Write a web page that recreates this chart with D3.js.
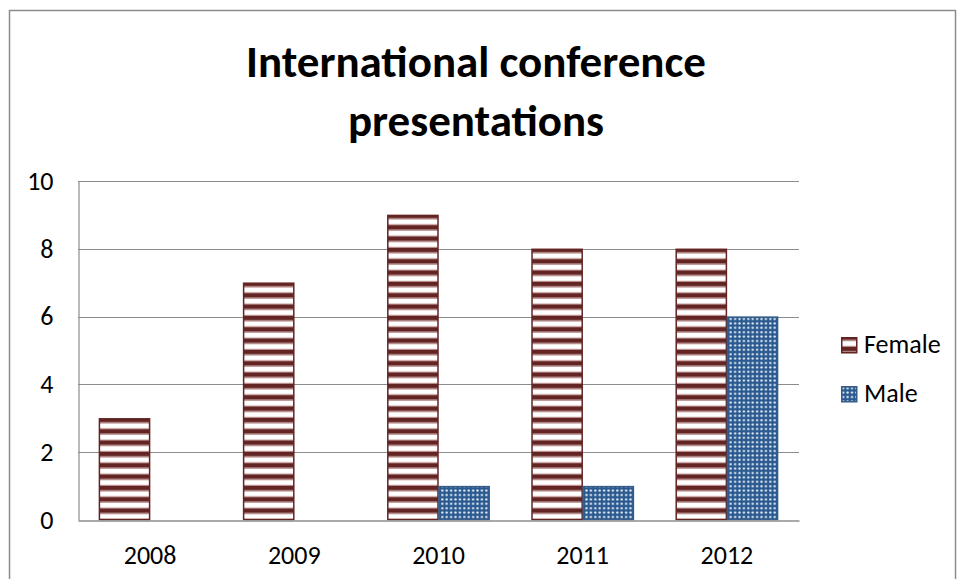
<!DOCTYPE html>
<html>
<head>
<meta charset="utf-8">
<script src="https://cdn.jsdelivr.net/npm/d3@7"></script>
<style>
  html, body { margin: 0; padding: 0; background: #fff; }
  svg { display: block; font-family: Carlito, "Liberation Sans", Arial, sans-serif; }
</style>
</head>
<body>
<svg id="chart" width="957" height="579"></svg>
<script>
// Presentations per year, by gender
const years = ["2008", "2009", "2010", "2011", "2012"];
const female = [3, 7, 9, 8, 8];
const male = [0, 0, 1, 1, 6];
const seriesNames = ["Female", "Male"];
const yTicks = [0, 2, 4, 6, 8, 10];
const titleLines = ["International conference", "presentations"];

const svg = d3.select("#chart");
const plot = { left: 78, top: 181, right: 799, bottom: 520 };
const labelFont = "Carlito, 'Liberation Sans', Arial, sans-serif";

const defs = svg.append("defs");

// Horizontal-stripe fill for the Female series
const stripe = defs.append("pattern")
  .attr("id", "stripes").attr("patternUnits", "userSpaceOnUse")
  .attr("width", 10).attr("height", 34 / 3)
  .attr("y", plot.bottom);
stripe.append("rect").attr("width", 10).attr("height", 34 / 3).attr("fill", "#ffffff");
stripe.append("rect").attr("y", 0).attr("width", 10).attr("height", 4.4).attr("fill", "#632523");
stripe.append("rect").attr("y", 4.4).attr("width", 10).attr("height", 1.1).attr("fill", "#b88a89");
stripe.append("rect").attr("y", 10.2).attr("width", 10).attr("height", 1.13).attr("fill", "#b88a89");

// Dotted fill for the Male series
const dots = defs.append("pattern")
  .attr("id", "dots").attr("patternUnits", "userSpaceOnUse")
  .attr("width", 4.4).attr("height", 4.4);
dots.append("rect").attr("width", 4.4).attr("height", 4.4).attr("fill", "#2b5a90");
dots.append("circle").attr("cx", 2.2).attr("cy", 2.2).attr("r", 1.2).attr("fill", "#e6eef7");

// Outer chart frame
svg.append("rect")
  .attr("x", 9.5).attr("y", 10.5).attr("width", 946).attr("height", 600)
  .attr("fill", "none").attr("stroke", "#8c8c8c").attr("stroke-width", 1.5);

// Title, two centred lines
const title = svg.append("g");
titleLines.forEach((t, i) => {
  title.append("text")
    .attr("x", 476).attr("y", 77 + i * 59)
    .attr("text-anchor", "middle")
    .attr("font-size", 36).attr("font-weight", "bold").attr("fill", "#000")
    .text(t);
});
// size the title so the first line spans its intended width
const first = title.select("text").node();
const fs = 36 * 460 / first.getComputedTextLength();
title.selectAll("text").attr("font-size", fs);

// Scales
const x0 = d3.scaleBand().domain(years)
  .range([plot.left, plot.right]).paddingInner(0.29).paddingOuter(0.145);
const x1 = d3.scaleBand().domain(seriesNames).range([0, x0.bandwidth()]);
const y = d3.scaleLinear().domain([0, 10]).range([plot.bottom, plot.top]);

// Gridlines
svg.append("g").selectAll("line").data(yTicks.filter(d => d > 0)).join("line")
  .attr("x1", plot.left).attr("x2", plot.right)
  .attr("y1", d => Math.round(y(d)) + 0.5).attr("y2", d => Math.round(y(d)) + 0.5)
  .attr("stroke", "#8c8c8c").attr("stroke-width", 1.2);

// Bars
const rows = years.map((yr, i) => ({ year: yr, vals: [
  { key: "Female", v: female[i] }, { key: "Male", v: male[i] }] }));
const groups = svg.append("g").selectAll("g").data(rows).join("g")
  .attr("transform", d => `translate(${x0(d.year)},0)`);
groups.selectAll("rect").data(d => d.vals.filter(e => e.v > 0)).join("rect")
  .attr("x", d => x1(d.key) + 0.5)
  .attr("y", d => y(d.v) + 0.5)
  .attr("width", x1.bandwidth() - 1)
  .attr("height", d => y(0) - y(d.v) - 1)
  .attr("fill", d => d.key === "Female" ? "url(#stripes)" : "url(#dots)")
  .attr("stroke", d => d.key === "Female" ? "#632523" : "#385d8a")
  .attr("stroke-width", 1.5);

// Axes
const yAxis = d3.axisLeft(y).tickValues(yTicks).tickSize(0).tickPadding(25);
const gy = svg.append("g").attr("transform", `translate(${plot.left + 0.5},0)`).call(yAxis);
gy.select(".domain").attr("stroke", "#8c8c8c").attr("stroke-width", 1.2);
gy.selectAll("text").attr("font-size", 26).attr("fill", "#000")
  .attr("font-family", labelFont);

const xAxis = d3.axisBottom(x0).tickSize(0).tickPadding(25);
const gx = svg.append("g").attr("transform", `translate(0,${plot.bottom + 0.5})`).call(xAxis);
gx.select(".domain").attr("stroke", "#8c8c8c").attr("stroke-width", 1.5);
gx.selectAll("text").attr("font-size", 26).attr("fill", "#000")
  .attr("font-family", labelFont);

// Legend
const legend = svg.append("g").selectAll("g").data(seriesNames).join("g")
  .attr("transform", (d, i) => `translate(841,${337 + i * 49})`);
legend.append("rect")
  .attr("x", 0.75).attr("y", 0.75).attr("width", 15).attr("height", 15)
  .attr("fill", d => d === "Female" ? "url(#stripes)" : "url(#dots)")
  .attr("stroke", d => d === "Female" ? "#632523" : "#385d8a")
  .attr("stroke-width", 1.5);
legend.append("text")
  .attr("x", 23).attr("y", 16)
  .attr("font-size", 26).attr("fill", "#000")
  .text(d => d);
</script>
</body>
</html>
